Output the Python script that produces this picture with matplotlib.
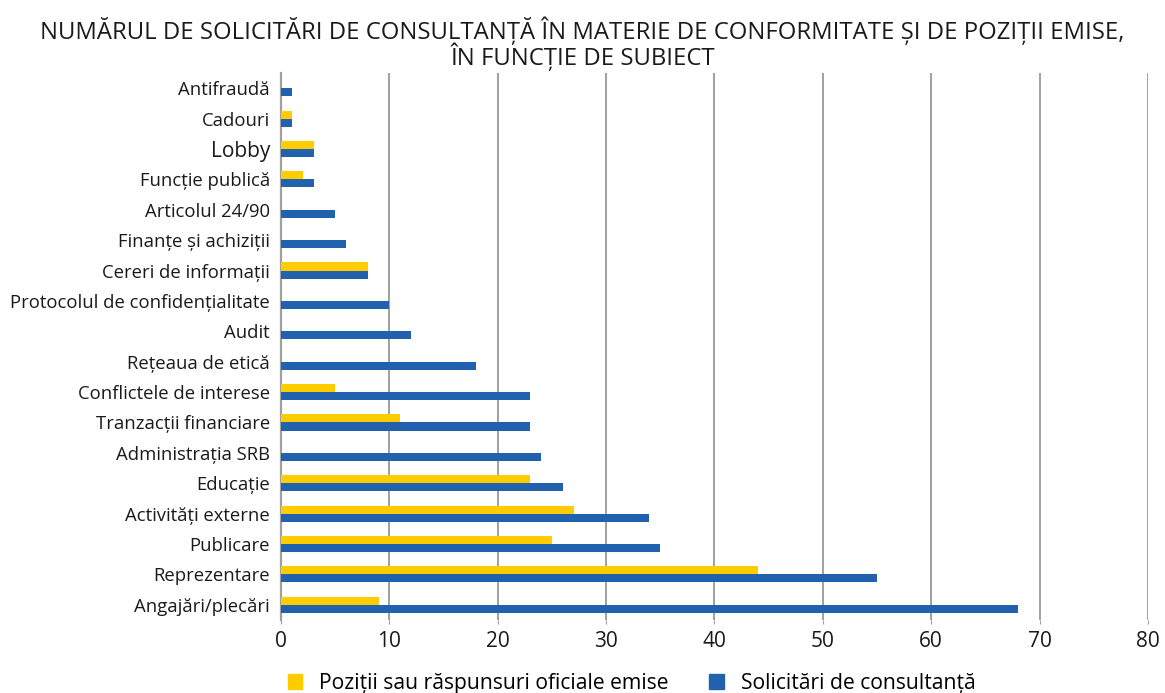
import numpy as np
import matplotlib.pyplot as plt
from matplotlib.patches import Patch

plt.rcParams['font.family'] = ['Open Sans', 'DejaVu Sans']

# categories listed bottom to top
subjects = ['Angajări/plecări', 'Reprezentare', 'Publicare', 'Activități externe',
            'Educație', 'Administrația SRB', 'Tranzacții financiare',
            'Conflictele de interese', 'Rețeaua de etică', 'Audit',
            'Protocolul de confidențialitate', 'Cereri de informații',
            'Finanțe și achiziții', 'Articolul 24/90', 'Funcție publică',
            'Lobby', 'Cadouri', 'Antifraudă']
positions = [9, 44, 25, 27, 23, 0, 11, 5, 0, 0, 0, 8, 0, 0, 2, 3, 1, 0]
requests = [68, 55, 35, 34, 26, 24, 23, 23, 18, 12, 10, 8, 6, 5, 3, 3, 1, 1]

series_names = ['Poziții sau răspunsuri oficiale emise', 'Solicitări de consultanță']
yellow = '#FFCC00'
blue = '#2161AE'
grid_grey = '#A0A0A0'
text_col = '#1a1a1a'

fig = plt.figure(figsize=(11.65, 6.93), dpi=100)
ax = fig.add_axes([0.2412, 0.1053, 0.7442, 0.7894])

y = np.arange(len(subjects))
h = 0.265
ax.barh(y + h / 2, positions, height=h, color=yellow, zorder=3)
ax.barh(y - h / 2, requests, height=h, color=blue, zorder=3)

ax.set_xlim(0, 80)
ax.set_ylim(-0.5, len(subjects) - 0.5)
ax.set_xticks(np.arange(0, 81, 10))
ax.set_yticks(y)
ax.set_yticklabels(subjects)
for lbl in ax.get_yticklabels():
    lbl.set_fontsize(15 if lbl.get_text() == 'Lobby' else 13.3)
    lbl.set_color(text_col)

ax.tick_params(axis='x', labelsize=15, colors=text_col, length=3,
               color=grid_grey, pad=5)
ax.tick_params(axis='y', length=0, pad=8)
ax.xaxis.grid(True, color=grid_grey, linewidth=1.4, zorder=0)
for s in ['top', 'right', 'bottom']:
    ax.spines[s].set_visible(False)
ax.spines['left'].set_color(grid_grey)
ax.spines['left'].set_linewidth(1.6)

fig.text(0.5, 0.976, 'NUMĂRUL DE SOLICITĂRI DE CONSULTANȚĂ ÎN MATERIE DE CONFORMITATE ȘI DE POZIȚII EMISE,\nÎN FUNCȚIE DE SUBIECT',
         ha='center', va='top', fontsize=17.2, color=text_col, linespacing=0.9)

handles = [Patch(color=yellow), Patch(color=blue)]
fig.legend(handles, series_names, loc='center', bbox_to_anchor=(0.542, 0.014),
           ncol=2, frameon=False, fontsize=15.2, handlelength=0.7, handleheight=0.7,
           columnspacing=1.9, handletextpad=0.8)

fig.savefig('out.png', dpi=100)
